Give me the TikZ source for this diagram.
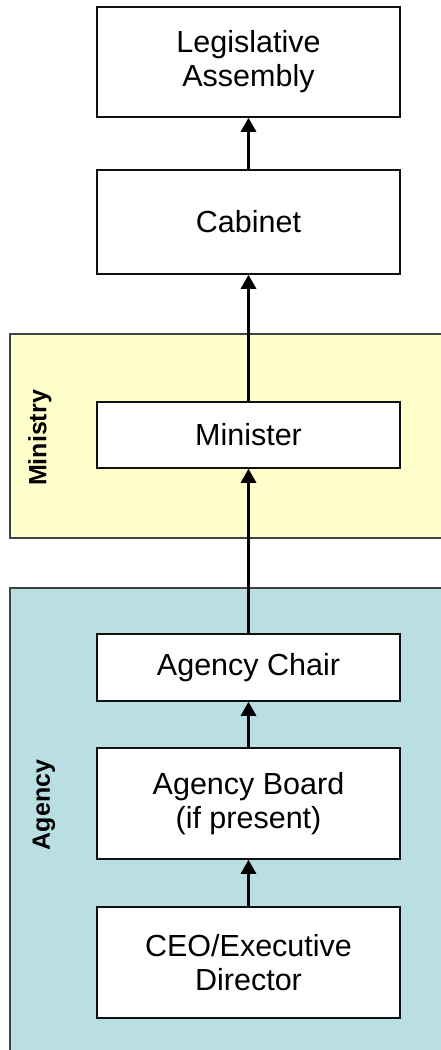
\documentclass[tikz,border=0pt]{standalone}
\usepackage{fontspec}
\setmainfont{Liberation Sans}
\usepackage{xcolor}
\usepackage{tikz}
\usetikzlibrary{arrows.meta,positioning}
\definecolor{MinYellow}{HTML}{FFFFCC}
\definecolor{AgBlue}{HTML}{BADFE2}
\definecolor{LineDark}{HTML}{111111}

\begin{document}
\begin{tikzpicture}[x=1pt,y=-1pt,
  rolebox/.style={draw=LineDark,line width=1.5pt,fill=white,minimum width=303pt,inner sep=0pt,align=center,font=\fontsize{30.5}{34}\selectfont},
  panel/.style={draw=LineDark!80,line width=1.5pt},
  panellabel/.style={rotate=90,font=\bfseries\fontsize{25}{28}\selectfont},
  report/.style={-{Triangle[length=14pt,width=15pt]},line width=3pt}]
\useasboundingbox (0,0) rectangle (441,1050);
% panels
\draw[panel,fill=MinYellow] (10,334) rectangle (460,538);
\draw[panel,fill=AgBlue] (10,588) rectangle (460,1070);
\node[panellabel] (ministry) at (40,438) {Ministry};
\node[panellabel] (agency) at (44,805) {Agency};
% roles
\node[rolebox,minimum height=110pt] (assembly) at (248.5,62) {Legislative\\Assembly};
\node[rolebox,minimum height=104pt] (cabinet) at (248.5,222) {Cabinet};
\node[rolebox,minimum height=66pt] (minister) at (248.5,435) {Minister};
\node[rolebox,minimum height=67pt] (chair) at (248.5,667.5) {Agency Chair};
\node[rolebox,minimum height=111pt] (board) at (248.5,803.5) {Agency Board\\(if present)};
\node[rolebox,minimum height=111pt] (ceo) at (248.5,962.5) {CEO/Executive\\Director};
% reporting lines
\draw[report] (cabinet) -- (assembly);
\draw[report] (minister) -- (cabinet);
\draw[report] (chair) -- (minister);
\draw[report] (board) -- (chair);
\draw[report] (ceo) -- (board);
\end{tikzpicture}
\end{document}
